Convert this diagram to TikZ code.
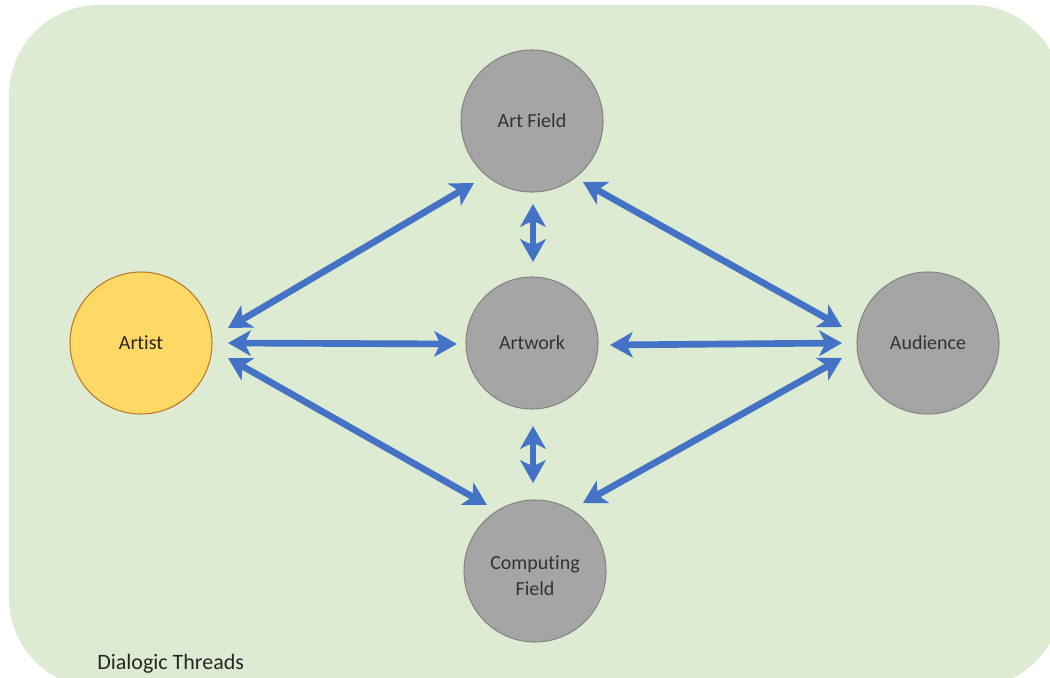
\documentclass[tikz,border=0pt]{standalone}
\usepackage{fontspec}
\setmainfont[Ligatures=NoCommon]{Carlito}
\usetikzlibrary{arrows.meta,calc}
\definecolor{bggreen}{HTML}{DCEBD2}
\definecolor{nodegray}{HTML}{A5A5A5}
\definecolor{nodegrayline}{HTML}{858585}
\definecolor{artistfill}{HTML}{FFD966}
\definecolor{artistline}{HTML}{C0772A}
\definecolor{arrowblue}{HTML}{4472C4}
\definecolor{textdark}{HTML}{333333}
\tikzset{
  graycircle/.style={circle, fill=nodegray, draw=nodegrayline, line width=0.8pt, minimum size=#1*1.5pt, inner sep=0pt, text=textdark, font=\fontsize{15}{18.75}\selectfont, align=center},
  artistcircle/.style={circle, fill=artistfill, draw=artistline, line width=0.8pt, minimum size=142*0.75pt, inner sep=0pt, text=black!85, font=\fontsize{15}{18.75}\selectfont},
  biarrow/.style={draw=arrowblue, line width=5pt, {Stealth[length=17pt,width=19pt,inset=4.5pt]}-{Stealth[length=17pt,width=19pt,inset=4.5pt]}},
}
\begin{document}
\begin{tikzpicture}[x=0.75pt,y=-0.75pt]
\useasboundingbox (0,0) rectangle (1050,678);
\clip (0,0) rectangle (1050,678);
\fill[bggreen, rounded corners=67.5pt] (9,5) rectangle (1062,688);

\node[graycircle=71] (artfield) at (532,121) {Art Field};
\node[artistcircle] (artist) at (141,343) {Artist};
\node[graycircle=66] (artwork) at (532,343) {Artwork};
\node[graycircle=71] (audience) at (928,343) {Audience};
\node[graycircle=71, text height=36pt, text depth=0pt] (computing) at (535,571) {\shortstack{Computing\\[3pt]Field}};

\node[anchor=base west, inner sep=0pt, text=black!85, font=\fontsize{16.5}{20}\selectfont] (title) at (97,669) {Dialogic Threads};

\draw[biarrow] ($(artist)+(87,-15)$) -- ($(artfield)+(-58,62)$);
\draw[biarrow] ($(artist)+(87,0)$) -- ($(artwork)+(-75,1)$);
\draw[biarrow] ($(artist)+(87,15)$) -- ($(computing)+(-48,-66)$);
\draw[biarrow] ($(artfield)+(1,83)$) -- ($(artwork)+(1,-81)$);
\draw[biarrow] ($(artwork)+(1,83)$) -- ($(computing)+(-2,-88)$);
\draw[biarrow] ($(artfield)+(51,61)$) -- ($(audience)+(-86,-16)$);
\draw[biarrow] ($(artwork)+(78,2)$) -- ($(audience)+(-86,0)$);
\draw[biarrow] ($(computing)+(48,-68)$) -- ($(audience)+(-86,15)$);
\end{tikzpicture}
\end{document}
